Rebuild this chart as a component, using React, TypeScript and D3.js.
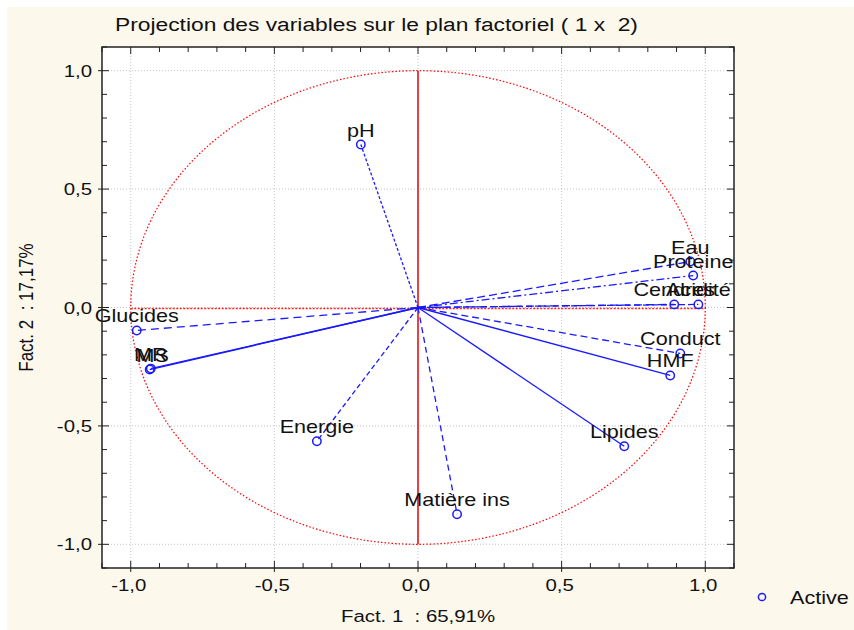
import React, { useRef, useEffect } from "react";
import * as d3 from "d3";

const TITLE = "Projection des variables sur le plan factoriel ( 1 x  2)";
const X_LABEL = "Fact. 1  : 65,91%";
const Y_LABEL = "Fact. 2  : 17,17%";
const LEGEND = "Active";

const VARIABLES = ["pH", "Eau", "Proteine", "Cendres", "Acidité", "Conduct", "HMF", "Lipides", "Matière ins", "Energie", "Glucides", "MS", "MR"];
const FACT1 = [-0.199, 0.948, 0.958, 0.892, 0.976, 0.913, 0.878, 0.718, 0.136, -0.352, -0.979, -0.934, -0.93];
const FACT2 = [0.688, 0.194, 0.135, 0.013, 0.013, -0.194, -0.287, -0.586, -0.873, -0.565, -0.097, -0.262, -0.258];
const MAJOR_TICKS = [-1, -0.5, 0, 0.5, 1];
const TICK_LABELS = ["-1,0", "-0,5", "0,0", "0,5", "1,0"];

// line style per variable (as it looks in the screenshot)
const DASH: Record<string, string | null> = {
  pH: "3,2",
  Eau: "8,4",
  Proteine: "8,3,2,3",
  Cendres: "8,4",
  "Acidité": "6,3",
  Conduct: "7,4",
  HMF: null,
  Lipides: null,
  "Matière ins": "6,4",
  Energie: "5,3",
  Glucides: "8,5",
  MS: null,
  MR: null,
};

const FONT = "'Liberation Sans', Arial, sans-serif";
const SX = 1.2; // the screenshot is stretched horizontally

export default function App() {
  const svgRef = useRef<SVGSVGElement>(null);

  useEffect(() => {
    const width = 854, height = 630;
    const svg = d3.select(svgRef.current);
    svg.selectAll("*").remove();

    const x = d3.scaleLinear().domain([-1.1, 1.1]).range([102, 734]);
    const y = d3.scaleLinear().domain([-1.1, 1.1]).range([568, 47]);

    const text = (g: any, tx: number, ty: number, s: string, size = 18, anchor = "start") =>
      g.append("text")
        .attr("transform", `translate(${tx},${ty}) scale(${SX},1)`)
        .attr("text-anchor", anchor)
        .style("font-family", FONT)
        .style("font-size", `${size}px`)
        .style("white-space", "pre")
        .style("fill", "#111")
        .text(s);

    svg.append("rect").attr("width", width).attr("height", height).attr("fill", "#fff");
    svg.append("rect").attr("x", 7).attr("y", 7).attr("width", width - 7).attr("height", height - 7).attr("fill", "#fdf8ec");

    // plot area
    svg.append("rect")
      .attr("x", x(-1.1)).attr("y", y(1.1))
      .attr("width", x(1.1) - x(-1.1)).attr("height", y(-1.1) - y(1.1))
      .attr("fill", "#fff");

    // grid
    const grid = svg.append("g").attr("stroke", "#c4c4c4").attr("stroke-width", 1).attr("stroke-dasharray", "1,2");
    MAJOR_TICKS.forEach(v => {
      grid.append("line").attr("x1", x(v)).attr("x2", x(v)).attr("y1", y(1.1)).attr("y2", y(-1.1));
      grid.append("line").attr("x1", x(-1.1)).attr("x2", x(1.1)).attr("y1", y(v)).attr("y2", y(v));
    });

    // unit circle + red axes
    svg.append("ellipse")
      .attr("cx", x(0)).attr("cy", y(0))
      .attr("rx", x(1) - x(0)).attr("ry", y(0) - y(1))
      .attr("fill", "none").attr("stroke", "#f00").attr("stroke-width", 1.2).attr("stroke-dasharray", "1.5,2");
    svg.append("line")
      .attr("x1", x(-1)).attr("x2", x(1)).attr("y1", Math.round(y(0)) + 0.5).attr("y2", Math.round(y(0)) + 0.5)
      .attr("stroke", "#ff2020").attr("stroke-width", 1.4).attr("stroke-dasharray", "2,1.5");
    svg.append("line")
      .attr("x1", x(0)).attr("x2", x(0)).attr("y1", y(1)).attr("y2", y(-1))
      .attr("stroke", "#e8141a").attr("stroke-width", 1.6);

    // vectors
    const pts = VARIABLES.map((name, i) => ({ name, f1: FACT1[i], f2: FACT2[i] }));
    svg.append("g")
      .selectAll("line")
      .data(pts)
      .join("line")
      .attr("x1", x(0)).attr("y1", y(0))
      .attr("x2", d => x(d.f1)).attr("y2", d => y(d.f2))
      .attr("stroke", "#1a1aff")
      .attr("stroke-width", 1.3)
      .attr("stroke-dasharray", d => DASH[d.name] ?? null);

    svg.append("g")
      .selectAll("circle")
      .data(pts)
      .join("circle")
      .attr("cx", d => x(d.f1)).attr("cy", d => y(d.f2))
      .attr("r", 4.2)
      .attr("fill", "none")
      .attr("stroke", "#1a1aff")
      .attr("stroke-width", 1.5);

    const labels = svg.append("g");
    pts.forEach(d => text(labels, x(d.f1) + (d.name === "MS" ? 3 : 0), y(d.f2) - 8, d.name, 18, "middle"));

    // frame + ticks
    svg.append("rect")
      .attr("x", x(-1.1)).attr("y", y(1.1))
      .attr("width", x(1.1) - x(-1.1)).attr("height", y(-1.1) - y(1.1))
      .attr("fill", "none").attr("stroke", "#222").attr("stroke-width", 1.5);

    const ticks = svg.append("g").attr("stroke", "#222").attr("stroke-width", 1);
    d3.range(-11, 12).forEach(k => {
      const v = k / 10;
      const major = k % 5 === 0;
      const inner = major ? 7 : 5;
      const outer = major ? 4 : 0;
      ticks.append("line").attr("x1", x(v)).attr("x2", x(v)).attr("y1", y(-1.1) + outer).attr("y2", y(-1.1) - inner);
      ticks.append("line").attr("x1", x(v)).attr("x2", x(v)).attr("y1", y(1.1)).attr("y2", y(1.1) + inner);
      ticks.append("line").attr("y1", y(v)).attr("y2", y(v)).attr("x1", x(-1.1) - outer).attr("x2", x(-1.1) + inner);
      ticks.append("line").attr("y1", y(v)).attr("y2", y(v)).attr("x1", x(1.1)).attr("x2", x(1.1) - inner);
    });

    const axisText = svg.append("g");
    MAJOR_TICKS.forEach((v, i) => {
      text(axisText, x(v) - 2, 591, TICK_LABELS[i], 17, "middle");
      text(axisText, 92, y(v) + 6, TICK_LABELS[i], 17, "end");
    });

    text(svg, x(0), 622, X_LABEL, 17, "middle");
    svg.append("text")
      .attr("transform", `translate(33,${y(0)}) rotate(-90) scale(1,${SX})`)
      .attr("text-anchor", "middle")
      .style("font-family", FONT)
      .style("font-size", "17px")
      .style("white-space", "pre")
      .style("fill", "#111")
      .text(Y_LABEL);

    text(svg, 115, 31, TITLE, 19);

    // legend
    svg.append("circle").attr("cx", 762).attr("cy", 597).attr("r", 3.6)
      .attr("fill", "none").attr("stroke", "#1a1aff").attr("stroke-width", 1.5);
    text(svg, 790, 604, LEGEND, 18);
  }, []);

  return (
    <svg
      ref={svgRef}
      width={854}
      height={630}
      style={{ position: "absolute", left: 0, top: 0, display: "block" }}
    />
  );
}
